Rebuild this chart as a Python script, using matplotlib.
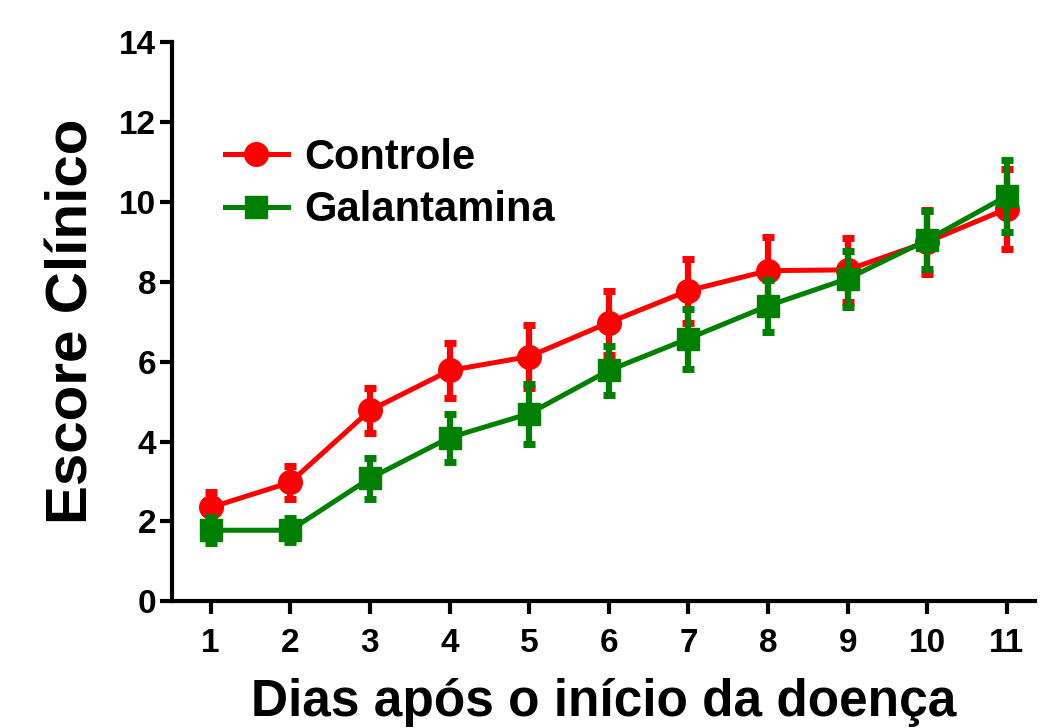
import matplotlib
matplotlib.use('Agg')
import matplotlib.pyplot as plt

plt.rcParams['font.family'] = ['Liberation Sans', 'DejaVu Sans']
plt.rcParams['font.weight'] = 'bold'

dias = [1, 2, 3, 4, 5, 6, 7, 8, 9, 10, 11]
controle = [2.35, 2.98, 4.78, 5.78, 6.13, 6.98, 7.78, 8.28, 8.3, 9.0, 9.83]
controle_err = [0.4, 0.42, 0.57, 0.7, 0.8, 0.8, 0.8, 0.85, 0.8, 0.8, 1.0]
galantamina = [1.78, 1.78, 3.08, 4.1, 4.7, 5.78, 6.58, 7.4, 8.08, 9.05, 10.15]
galantamina_err = [0.33, 0.3, 0.52, 0.6, 0.75, 0.62, 0.75, 0.65, 0.7, 0.72, 0.9]

fig = plt.figure(figsize=(10.4, 7.28), dpi=100)
ax = fig.add_axes([0.165, 0.174, 0.83, 0.768])

c = ax.errorbar(dias, controle, yerr=controle_err, color='#ff0000', marker='o',
                markersize=17, linewidth=3.6, elinewidth=4.5, capsize=4, capthick=5,
                label='Controle', zorder=3)
g = ax.errorbar(dias, galantamina, yerr=galantamina_err, color='#008000', marker='s',
                markersize=16, linewidth=3.6, elinewidth=4.5, capsize=4, capthick=5,
                label='Galantamina', zorder=4)

ax.set_xlim(0.51, 11.35)
ax.set_ylim(0, 14)
ax.set_xticks(dias)
ax.set_yticks(range(0, 15, 2))

for s in ['top', 'right']:
    ax.spines[s].set_visible(False)
for s in ['left', 'bottom']:
    ax.spines[s].set_linewidth(3)
ax.tick_params(axis='both', direction='out', length=9, width=3, labelsize=24, pad=2)
ax.tick_params(axis='x', pad=10)
for lab in ax.get_xticklabels() + ax.get_yticklabels():
    lab.set_fontweight('bold')

ax.set_xlabel('Dias após o início da doença', fontsize=37, fontweight='bold', labelpad=14)
ax.set_ylabel('Escore Clínico', fontsize=42, fontweight='bold', labelpad=14)

# legend handles without the error bars
leg = ax.legend([c[0], g[0]], ['Controle', 'Galantamina'], loc='center left',
                bbox_to_anchor=(0.038, 0.746), frameon=False, borderpad=0,
                prop={'size': 30, 'weight': 'bold'}, handlelength=1.5,
                handletextpad=0.4, labelspacing=0.3)

fig.savefig('out.png', dpi=100)
